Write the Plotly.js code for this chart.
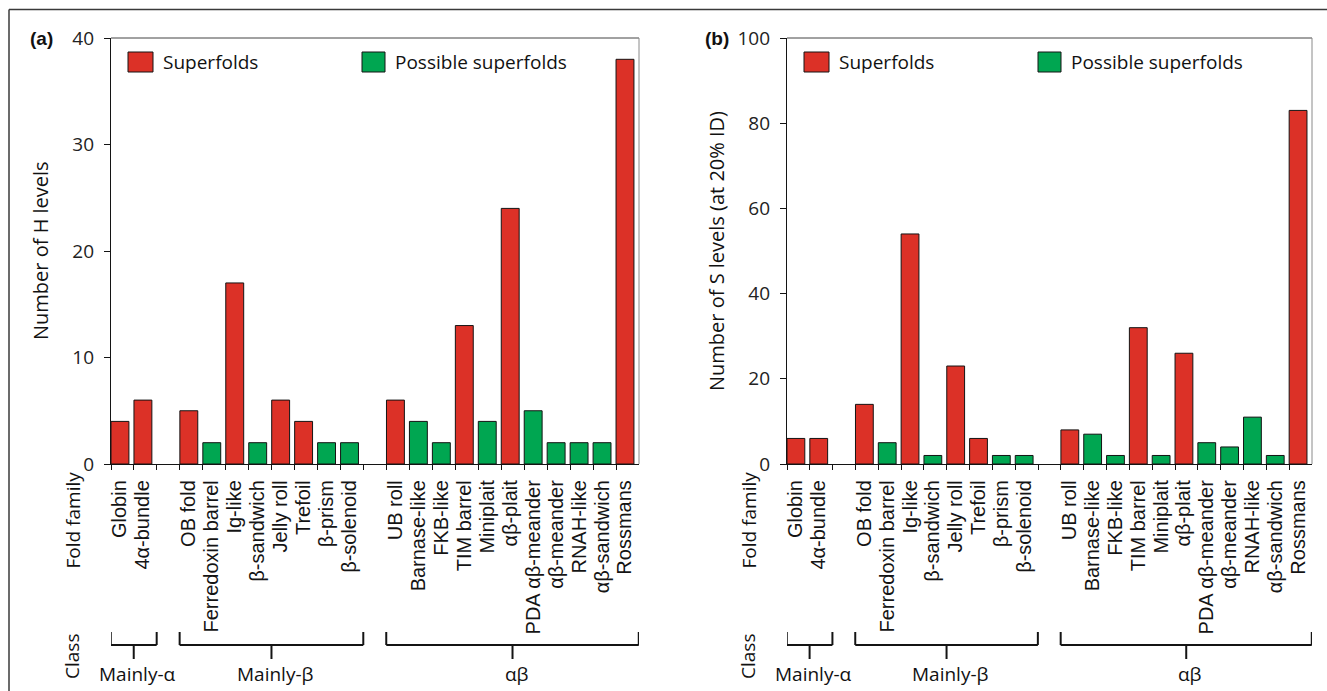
<!DOCTYPE html>
<html><head><meta charset="utf-8">
<script src="https://cdn.plot.ly/plotly-3.0.1.min.js"></script>
<style>html,body{margin:0;padding:0;background:#fff}#chart{width:1327px;height:691px}</style>
</head><body><div id="chart"></div>
<script>
// ---- data ----
const families = ["Globin","4α-bundle","","OB fold","Ferredoxin barrel","Ig-like","β-sandwich","Jelly roll","Trefoil","β-prism","β-solenoid","","UB roll","Barnase-like","FKB-like","TIM barrel","Miniplait","αβ-plait","PDA αβ-meander","αβ-meander","RNAH-like","αβ-sandwich","Rossmans"];
const foldType = ["S","S","","S","P","S","P","S","S","P","P","","S","P","P","S","P","S","P","P","P","P","S"];
const hLevels = [4,6,null,5,2,17,2,6,4,2,2,null,6,4,2,13,4,24,5,2,2,2,38];
const sLevels = [6,6,null,14,5,54,2,23,6,2,2,null,8,7,2,32,2,26,5,4,11,2,83];
const classNames = ["Mainly-α","Mainly-β","αβ"];
const classStart = [0,3,12];
const classEnd = [1,10,22];
const legendLabels = ["Superfolds","Possible superfolds"];
const panelLabels = ["(a)","(b)"];
const yTitles = ["Number of H levels","Number of S levels (at 20% ID)"];

// ---- geometry / style ----
const W=1327,H=691,L=111,R=15,T=38,B=227;
const PW=W-L-R, PH=H-T-B;
const px = X => (X-L)/PW;
const py = Y => (T+PH-Y)/PH;
const RED='#dc3127', GREEN='#00a651', INK='#141414';
const BARW=0.78;
const xs = families.map((_,i)=>i);
const xr = [-BARW/2, families.length-1+(1-BARW/2)];
const domA=[0, px(639)], domB=[px(787), 1];
const SANS='Liberation Sans, Arial, sans-serif';
const OPEN='Open Sans, Liberation Sans, sans-serif';

function series(vals, type, xa, ya, name, color){
  const idx = xs.filter(i=>foldType[i]===type);
  return {type:'bar', x: idx, y: idx.map(i=>vals[i]), hovertext: idx.map(i=>families[i]),
    xaxis: xa, yaxis: ya, width: BARW, name, showlegend:false,
    marker:{color, line:{color:INK, width:1}}, hoverinfo:'text+y'};
}
const data = [
  series(hLevels,'S','x','y',legendLabels[0],RED),
  series(hLevels,'P','x','y',legendLabels[1],GREEN),
  series(sLevels,'S','x2','y2',legendLabels[0],RED),
  series(sLevels,'P','x2','y2',legendLabels[1],GREEN)
];

const labelIdx = xs.filter(i=>families[i]!=='');
function xaxisDef(domain, anchor){
  return {domain, anchor, range:xr, type:'linear', tickmode:'array', tickvals:labelIdx,
    ticktext:labelIdx.map(i=>families[i]), tickangle:-90, ticks:'', showline:true,
    linecolor:INK, linewidth:1.2, showgrid:false, zeroline:false, ticklabelstandoff:7,
    tickfont:{family:SANS, size:20, color:INK}, fixedrange:true,
    minor:{tickmode:'array', tickvals:xs.map(i=>i-BARW/2), ticks:'outside', ticklen:5, tickcolor:INK, tickwidth:1, showgrid:false}};
}
function yaxisDef(anchor, range, dtick){
  return {anchor, range, dtick, tick0:0, ticks:'outside', ticklen:6, tickcolor:INK, tickwidth:1,
    showline:true, linecolor:INK, linewidth:1.2, showgrid:false, zeroline:false,
    ticklabelstandoff:6, tickfont:{family:OPEN, size:19, color:'#222'}, fixedrange:true};
}

const shapes = [];
const annotations = [];
// outer frame (top + left)
shapes.push({type:'line', xref:'paper', yref:'paper', x0:px(9), x1:px(9), y0:py(H+2), y1:py(9.5), line:{color:'#3a3a3a', width:1.5}});
shapes.push({type:'line', xref:'paper', yref:'paper', x0:px(9), x1:px(W+2), y0:py(9.5), y1:py(9.5), line:{color:'#3a3a3a', width:1.5}});

[domA, domB].forEach((dom, p)=>{
  const xa = p===0?'x':'x2';
  const leftPx = L + dom[0]*PW;
  // top/right box lines
  shapes.push({type:'line', xref:'paper', yref:'paper', x0:dom[0], x1:dom[1], y0:1, y1:1, line:{color:'#444', width:1}});
  shapes.push({type:'line', xref:'paper', yref:'paper', x0:dom[1], x1:dom[1], y0:0, y1:1, line:{color:'#8a8a8a', width:1}});
  // legend
  const sw = [[17,42,50,RED],[251,274,282,GREEN]];
  sw.forEach((s,k)=>{
    shapes.push({type:'rect', xref:'paper', yref:'paper', x0:px(leftPx+s[0]), x1:px(leftPx+s[1]), y0:py(72), y1:py(52), fillcolor:s[3], line:{color:INK, width:1}});
    annotations.push({xref:'paper', yref:'paper', x:px(leftPx+s[2]), y:py(62), xanchor:'left', yanchor:'middle', text:legendLabels[k], showarrow:false, font:{family:OPEN, size:19, color:'#111'}});
  });
  // panel label
  annotations.push({xref:'paper', yref:'paper', x:px(leftPx-70), y:py(38), xanchor:'center', yanchor:'middle', text:'<b>'+panelLabels[p]+'</b>', showarrow:false, font:{family:SANS, size:19, color:'#111'}});
  // y title
  annotations.push({xref:'paper', yref:'paper', x:px(leftPx-71), y:0.5, xanchor:'center', yanchor:'middle', textangle:-90, text:yTitles[p], showarrow:false, font:{family:OPEN, size:20, color:'#111'}});
  // row headers
  annotations.push({xref:'paper', yref:'paper', x:px(leftPx-39), y:py(470), xanchor:'center', yanchor:'top', textangle:-90, text:'Fold family', showarrow:false, font:{family:OPEN, size:19, color:'#111'}});
  annotations.push({xref:'paper', yref:'paper', x:px(leftPx-39), y:py(657), xanchor:'center', yanchor:'middle', textangle:-90, text:'Class', showarrow:false, font:{family:OPEN, size:19, color:'#111'}});
  // class brackets
  classNames.forEach((c,k)=>{
    const a = classStart[k]-0.4, b = classEnd[k]+0.6, m=(a+b)/2;
    const ln = {color:INK, width:2};
    shapes.push({type:'line', xref:xa, yref:'paper', x0:a, x1:b, y0:py(645), y1:py(645), line:ln});
    shapes.push({type:'line', xref:xa, yref:'paper', x0:a, x1:a, y0:py(645), y1:py(632), line:ln});
    shapes.push({type:'line', xref:xa, yref:'paper', x0:b, x1:b, y0:py(645), y1:py(632), line:ln});
    shapes.push({type:'line', xref:xa, yref:'paper', x0:m, x1:m, y0:py(645), y1:py(659), line:ln});
    annotations.push({xref:xa, yref:'paper', x:m, y:py(674), xanchor:'center', yanchor:'middle', xshift:4, text:c, showarrow:false, font:{family:OPEN, size:19, color:'#111'}});
  });
});

const layout = {
  width:W, height:H, margin:{l:L, r:R, t:T, b:B, pad:0},
  paper_bgcolor:'#fff', plot_bgcolor:'#fff', barmode:'overlay', showlegend:false,
  font:{family:OPEN, color:'#111'},
  xaxis: xaxisDef(domA,'y'), xaxis2: xaxisDef(domB,'y2'),
  yaxis: yaxisDef('x',[0,40],10), yaxis2: yaxisDef('x2',[0,100],20),
  shapes, annotations
};
Plotly.newPlot('chart', data, layout, {displayModeBar:false, staticPlot:true});
</script></body></html>
